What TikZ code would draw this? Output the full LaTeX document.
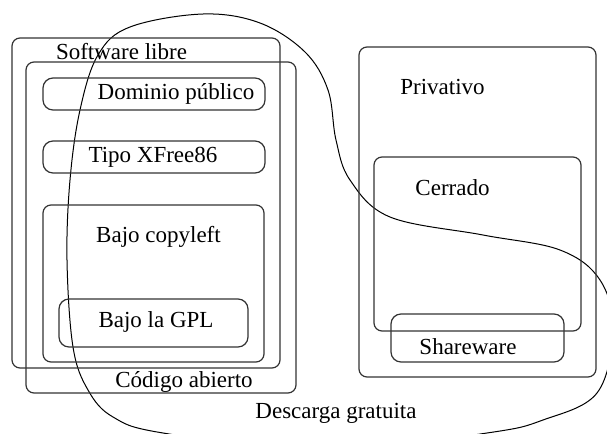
\documentclass[tikz,border=0pt]{standalone}
\usepackage{fontspec}
\setmainfont{Liberation Serif}
\begin{document}
\begin{tikzpicture}[x=0.5pt,y=-0.5pt,
  box/.style={draw=black!80, line width=0.6pt, rounded corners=4pt},
  pill/.style={box, rounded corners=5pt},
  lbl/.style={font=\fontsize{11.5}{14}\selectfont, inner sep=0pt},
  zone/.style={draw=black, line width=0.5pt}]
\useasboundingbox (0,0) rectangle (607,434);

% free-download region, cut by the page edges
\begin{scope}
  \clip (0,0) rectangle (607,434);
  \draw[zone] plot[smooth cycle, tension=0.6] coordinates {
    (163,433) (113,417) (88,390) (73,347) (67,260) (70,180) (80,110)
    (98,55) (130,27) (203,14) (260,23) (305,52) (328,90) (336,140)
    (350,180) (390,217) (483,235) (560,250) (600,280) (613,330)
    (597,393) (543,420) (487,433) (325,452)};
\end{scope}

% free software and open source
\draw[box] (12,38) rectangle (280,368);
\draw[box] (26,62) rectangle (296,393);
\draw[pill] (43,78) rectangle (265,110);
\draw[pill] (43,141) rectangle (265,173);
\draw[box] (43,205) rectangle (264,362);
\draw[pill] (59,299) rectangle (248,347);

% proprietary software
\draw[box] (359,47) rectangle (596,377);
\draw[box] (374,157) rectangle (581,331);
\draw[pill] (391,314) rectangle (564,362);

% labels
\node[lbl] (libre) at (121.5,52) {Software libre};
\node[lbl] (dominio) at (176,94) {Dominio público};
\node[lbl] (xfree) at (153,157) {Tipo XFree86};
\node[lbl] (copyleft) at (158.5,237) {Bajo copyleft};
\node[lbl] (gpl) at (156,322) {Bajo la GPL};
\node[lbl] (abierto) at (184,382) {Código abierto};
\node[lbl] (privativo) at (442.5,87) {Privativo};
\node[lbl] (cerrado) at (452.5,188) {Cerrado};
\node[lbl] (shareware) at (468,347) {Shareware};
\node[lbl] (descarga) at (336,413) {Descarga gratuita};
\end{tikzpicture}
\end{document}
